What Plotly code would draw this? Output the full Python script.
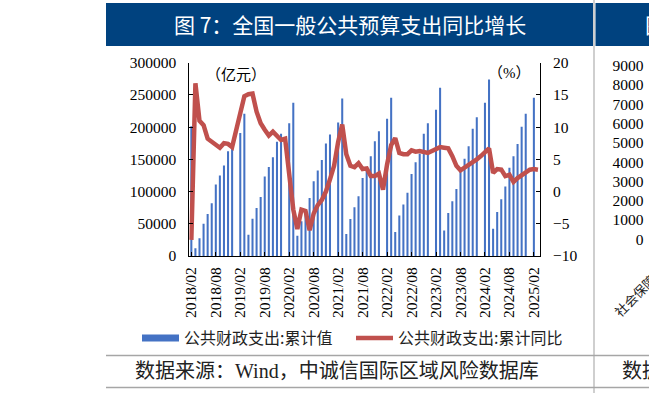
import plotly.graph_objects as go
import pandas as pd

W, H = 649, 393

# ---------------- data ----------------
months = [p.strftime('%Y/%m') for p in pd.period_range('2018-02', periods=86, freq='M')]
tick_labels = months[::6]

expenditure_cum = [  # 公共财政支出:累计值 (亿元)
    201500, 12000, 27500, 50000, 65000, 81700, 110800, 124800, 140300, 162700, 166300, None, 191000, 220700,
    33000, 58000, 74600, 91700, 123200, 138300, 153300, 177200, 189600, None, 206000, 237800,
    31600, 54000, 72000, 90000, 116000, 132600, 149000, 174500, 188500, None, 207000, 244500,
    34200, 57500, 75600, 92700, 121000, 135000, 155000, 178000, 193700, None, 213000, 245500,
    37300, 62700, 79800, 98000, 127400, 145600, 158500, 189600, 206000, None, 226900, 261000,
    39400, 66800, 85000, 104000, 134000, 151000, 170400, 197400, 215500, None, 237800, 274000,
    42400, 68400, 88000, 107700, 136800, 155000, 174000, 200500, 220700, None, 245500, None,
]

expenditure_yoy = [  # 公共财政支出:累计同比 (%)
    -7.5, 16.8, 11.0, 10.3, 8.2, 7.7, 7.3, 6.8, 7.5, 7.4, 6.9, 9.5, 12.8, 14.8,
    15.1, 15.2, 12.4, 10.6, 9.6, 8.7, 9.3, 8.6, 8.0, 8.2, 2.2, -2.8,
    -5.8, -2.8, -3.0, -6.0, -3.4, -2.1, -1.3, 0.0, 1.9, 4.0, 7.7, 10.4,
    5.8, 4.0, 3.8, 4.4, 3.5, 3.6, 2.4, 2.4, 2.8, 0.3, 4.2, 7.2,
    8.3, 6.0, 5.8, 5.8, 6.4, 6.2, 6.3, 6.1, 6.0, 6.3, 6.7, 6.9,
    6.8, 6.7, 5.5, 4.0, 3.3, 3.7, 4.0, 4.6, 5.0, 5.5, 6.0, 6.7,
    2.9, 3.5, 3.4, 2.4, 2.6, 1.5, 2.1, 2.6, 2.9, 3.4, 3.5, 3.4,
]

left_ticks = [0, 50000, 100000, 150000, 200000, 250000, 300000]
right_ticks = [-10, -5, 0, 5, 10, 15, 20]
next_panel_ticks = [0, 1000, 2000, 3000, 4000, 5000, 6000, 7000, 8000, 9000]

BLUE = '#4472C4'
RED = '#C0504D'
NAVY = '#00427F'
SERIF = 'Liberation Serif, Noto Sans CJK SC'
CJK = 'Noto Sans CJK SC'


def px(xp):
    return xp / W


def py(yp):
    return 1 - yp / H


fig = go.Figure()
fig.add_trace(go.Bar(x=months, y=expenditure_cum, marker=dict(color=BLUE, line=dict(width=0)),
                     width=0.5, showlegend=False, name='公共财政支出:累计值'))
# legend proxy (flat blue bar symbol)
fig.add_trace(go.Scatter(x=[None], y=[None], mode='lines', line=dict(color=BLUE, width=7),
                         name='公共财政支出:累计值'))
fig.add_trace(go.Scatter(x=months, y=expenditure_yoy, mode='lines', yaxis='y2',
                         line=dict(color=RED, width=4.5), name='公共财政支出:累计同比'))
# the neighbouring (cropped) chart's value axis – no visible marks
fig.add_trace(go.Scatter(x=[None], y=[None], xaxis='x3', yaxis='y3', mode='lines',
                         showlegend=False, hoverinfo='skip'))

axis_common = dict(showgrid=False, zeroline=False, showline=True, linecolor='#000000', linewidth=1,
                   ticks='inside', ticklen=4, tickcolor='#000000', automargin=False,
                   tickfont=dict(family=SERIF, size=15.5, color='#000000'))

fig.update_layout(
    template='none',
    width=W, height=H, autosize=False,
    margin=dict(l=0, r=0, t=0, b=0, pad=0, autoexpand=False),
    paper_bgcolor='white', plot_bgcolor='white',
    xaxis=dict(type='category', domain=[px(189.3), px(540)], range=[-0.5, 85.5],
               tickmode='array', tickvals=tick_labels, ticktext=tick_labels, tickangle=-90,
               anchor='y', ticklabelstandoff=4,
               **{k: v for k, v in axis_common.items() if k != 'tickfont'},
               tickfont=dict(family=SERIF, size=15.5, color='#000000')),
    yaxis=dict(domain=[py(256), py(62.7)], range=[0, 300000], tickmode='array',
               tickvals=left_ticks, tickformat='d', ticklabelstandoff=9, **axis_common),
    yaxis2=dict(overlaying='y', side='right', anchor='x', range=[-10, 20], tickmode='array',
                tickvals=right_ticks, ticklabelstandoff=9, **axis_common),
    xaxis3=dict(domain=[0.993, 1.0], visible=False, anchor='y3', range=[0, 1], automargin=False),
    yaxis3=dict(anchor='x3', domain=[py(239.3), py(65.6)], range=[0, 9000], tickmode='array',
                tickvals=next_panel_ticks, tickformat='d', showgrid=False, zeroline=False,
                showline=False, ticks='', automargin=False, side='left',
                tickfont=dict(family=SERIF, size=15.5, color='#000000')),
    legend=dict(orientation='h', x=px(137), y=py(338), xanchor='left', yanchor='middle',
                font=dict(family=CJK, size=16, color='#222222'), itemwidth=37, entrywidth=162,
                bgcolor='rgba(0,0,0,0)', traceorder='normal'),
    showlegend=True,
)

shapes = [
    dict(type='rect', xref='paper', yref='paper', x0=px(106), x1=px(593), y0=py(46), y1=py(3),
         fillcolor=NAVY, line=dict(width=0), layer='below'),
    dict(type='rect', xref='paper', yref='paper', x0=px(595.5), x1=1, y0=py(46), y1=py(3),
         fillcolor=NAVY, line=dict(width=0), layer='below'),
    dict(type='line', xref='paper', yref='paper', x0=px(594), x1=px(594), y0=0, y1=1,
         line=dict(color='#BFBFBF', width=1.5)),
    dict(type='line', xref='paper', yref='paper', x0=px(106), x1=1, y0=py(355.5), y1=py(355.5),
         line=dict(color='#A6A6A6', width=1.5)),
    dict(type='line', xref='paper', yref='paper', x0=px(106), x1=1, y0=py(387.5), y1=py(387.5),
         line=dict(color='#A6A6A6', width=1.5)),
]
fig.update_layout(shapes=shapes)

annotations = [
    dict(text='图 7：全国一般公共预算支出同比增长', x=px(350), y=py(24.5), xanchor='center', yanchor='middle',
         font=dict(family=CJK, size=21, color='white')),
    dict(text='图', x=px(643), y=py(24.5), xanchor='left', yanchor='middle',
         font=dict(family=CJK, size=21, color='white')),
    dict(text='（亿元）', x=px(236), y=py(73), xanchor='center', yanchor='middle',
         font=dict(family=CJK, size=15, color='#000000')),
    dict(text='（%）', x=px(509), y=py(73), xanchor='center', yanchor='middle',
         font=dict(family=SERIF, size=15, color='#000000')),
    dict(text='数据来源：Wind，中诚信国际区域风险数据库', x=px(133), y=py(371), xanchor='left', yanchor='middle',
         font=dict(family=SERIF, size=20, color='#222222')),
    dict(text='数据来源：Wind，中诚信国际区域风险数据库', x=px(620), y=py(371), xanchor='left', yanchor='middle',
         font=dict(family=SERIF, size=20, color='#222222')),
    dict(text='社会保障和就业', x=px(607), y=py(323), xanchor='left', yanchor='bottom', textangle=-45,
         font=dict(family=CJK, size=13, color='#222222')),
]
fig.update_layout(annotations=[dict(a, xref='paper', yref='paper', showarrow=False) for a in annotations])

fig.write_html("out.html", config={'displayModeBar': False},
               post_script="document.body.style.margin='0px';")
